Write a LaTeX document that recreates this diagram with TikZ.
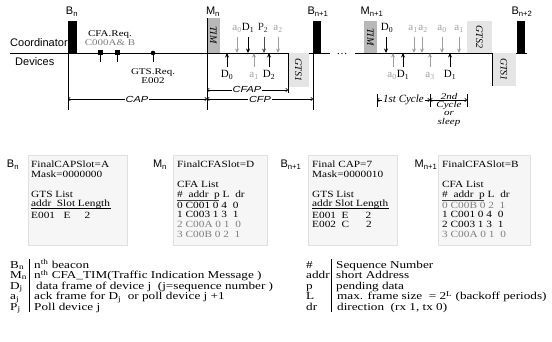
\documentclass[tikz,border=0pt]{standalone}
\usepackage{fontspec}
\setmainfont{Liberation Serif}
\setsansfont{Liberation Sans}
\usetikzlibrary{arrows.meta}
\definecolor{ackgray}{gray}{0.62}
\definecolor{timfill}{gray}{0.72}
\definecolor{gtsfill}{gray}{0.9}
\definecolor{panelfill}{gray}{0.965}
\definecolor{paneledge}{gray}{0.88}
% slightly condensed height for the table and legend texts
\newcommand{\sqz}[1]{\scalebox{1}[0.84]{#1}}
\newcommand{\sqzz}[1]{\scalebox{1}[0.8]{#1}}
\begin{document}
\begin{tikzpicture}[x=1pt,y=-1pt,
  lbl/.style={font=\fontsize{11}{11}\selectfont, inner sep=0pt, anchor=base},
  slbl/.style={font=\sffamily\fontsize{11}{11}\selectfont, inner sep=0pt, anchor=base},
  beaconbar/.style={fill=black},
  timbox/.style={fill=timfill},
  gtsbox/.style={fill=gtsfill},
  rot/.style={font=\itshape\fontsize{10}{10}\selectfont, rotate=-90, inner sep=0pt},
  frm/.style={-{Stealth[length=4.5pt,width=4pt]}, line width=0.9pt},
  blk/.style={frm, black},
  dim/.style={frm, black!70},
  ack/.style={frm, ackgray},
  span/.style={{To[length=2.5pt,width=4pt]}-{To[length=2.5pt,width=4pt]}, line width=0.6pt},
  spanlbl/.style={font=\sffamily\itshape\fontsize{11}{11}\selectfont, fill=white, inner xsep=1pt, inner ysep=0.4pt},
  cyclbl/.style={font=\itshape\fontsize{11}{11}\selectfont, fill=white, inner sep=1pt},
  cycln/.style={font=\itshape\fontsize{11}{11}\selectfont, fill=white, inner sep=0.5pt, anchor=base},
  panel/.style={fill=panelfill, draw=paneledge, line width=0.4pt},
  ptxt/.style={font=\fontsize{11.3}{11.3}\selectfont, inner sep=0pt, anchor=base west},
  legtxt/.style={font=\fontsize{13.2}{13.2}\selectfont, inner sep=0pt, anchor=base west},
]
\useasboundingbox (0,0) rectangle (552,342);

% ---------- superframe time line ----------
\node[slbl, anchor=base west] (coord) at (10,47) {Coordinator};
\node[slbl, anchor=base west] (devs) at (15,65.5) {Devices};
\coordinate (tl0) at (10,53);
\coordinate (tl1) at (330,53);
\coordinate (tl2) at (355,53);
\coordinate (tl3) at (527,53);
\draw[line width=0.8pt] (tl0) -- (tl1);
\draw[line width=0.8pt] (tl2) -- (tl3);
\node[lbl] (dots) at (342,55) {\dots};

% beacons
\fill[beaconbar] (68,21) rectangle (77,53);
\fill[beaconbar] (313,21) rectangle (321,53);
\fill[beaconbar] (517,21) rectangle (525,53);
\node[slbl] (bn) at (72,15) {B\textsubscript{n}};
\node[slbl] (bn1) at (318,15) {B\textsubscript{n+1}};
\node[slbl] (bn2) at (522,15) {B\textsubscript{n+2}};

% CFA_TIM frames
\fill[timbox] (207,18) rectangle (220,53);
\fill[timbox] (364,21) rectangle (377,53);
\node[rot] (tim1) at (213.5,35) {TIM};
\node[rot] (tim2) at (370.5,37) {TIM};
\node[slbl] (mn) at (213,15) {M\textsubscript{n}};
\node[slbl] (mn1) at (372,15) {M\textsubscript{n+1}};

% GTS slots
\fill[gtsbox] (288,53) rectangle (309,87);
\fill[gtsbox] (467,21) rectangle (492,53);
\fill[gtsbox] (492,53) rectangle (516,86);
\node[rot] (gtsa) at (298.5,70) {GTS1};
\node[rot] (gtsb) at (479.5,37) {GTS2};
\node[rot] (gtsc) at (504,69.5) {GTS1};
\draw[line width=0.6pt] (492,53) -- (492,86);

% boundaries
\coordinate (v0t) at (68,53);  \coordinate (v0b) at (68,110);
\coordinate (v1t) at (207,18); \coordinate (v1b) at (207,110);
\coordinate (v2t) at (313,53); \coordinate (v2b) at (313,110);
\coordinate (v3t) at (288,53); \coordinate (v3b) at (288,93);
\draw[line width=0.6pt] (v0t) -- (v0b);
\draw[line width=0.6pt] (v1t) -- (v1b);
\draw[line width=0.6pt] (v2t) -- (v2b);
\draw[line width=0.6pt] (v3t) -- (v3b);

% CAP requests
\fill (97.5,50.5) rectangle (102.5,55.5);
\fill (114.5,50.5) rectangle (119.5,55.5);
\fill (153,53) circle (2.3);
\draw[line width=0.7pt] (100,55) -- (100,62);
\draw[line width=0.7pt] (117,55) -- (117,62);
\draw[line width=0.7pt] (153,53) -- (153,62);
\node[lbl] (cfareq) at (110,36.5) {\sqzz{CFA.Req.}};
\node[lbl, ackgray!80!black] (cfaaddr) at (110,45.5) {\sqzz{C000A\& B}};
\node[lbl] (gtsreq) at (153,75) {\sqzz{GTS.Req.}};
\node[lbl] (gtsaddr) at (153,84) {\sqzz{E002}};

% periods
\draw[span] (v0b |- 0,99) coordinate (capl) -- (v1b |- 0,99) coordinate (capr);
\draw[span] (capr) -- (v2b |- 0,99) coordinate (cfpr);
\draw[span] (207,90) coordinate (cfapl) -- (288,90) coordinate (cfapr);
\node[spanlbl] (cap) at (137,99) {\sqzz{CAP}};
\node[spanlbl] (cfp) at (260,99.3) {\sqzz{CFP}};
\node[spanlbl] (cfap) at (247,89.7) {\sqzz{CFAP}};

% ---------- CFP of M_n ----------
\foreach \x/\s in {237/ack, 248/blk, 264/dim, 278/ack} {
  \draw[\s] (\x,37) -- (\x,53);
}
\node[lbl, ackgray] (l1) at (237,31) {a\textsubscript{0}};
\node[lbl] (l2) at (248,31) {D\textsubscript{1}};
\node[lbl, black!80] (l3) at (263,31) {P\textsubscript{2}};
\node[lbl, ackgray] (l4) at (278,31) {a\textsubscript{2}};
\foreach \x/\s in {227/blk, 254/ack, 269/blk} {
  \draw[\s] (\x,67) -- (\x,53);
}
\node[lbl] (l5) at (227,78) {D\textsubscript{0}};
\node[lbl, ackgray] (l6) at (254,78) {a\textsubscript{1}};
\node[lbl] (l7) at (269,78) {D\textsubscript{2}};

% ---------- CFP of M_n+1 ----------
\foreach \x/\s in {386/blk, 414/ack, 422/ack, 442/ack, 459/ack} {
  \draw[\s] (\x,37) -- (\x,53);
}
\node[lbl] (m1) at (387,31) {D\textsubscript{0}};
\node[lbl, ackgray] (m2) at (413,31) {a\textsubscript{1}};
\node[lbl, ackgray] (m3) at (423,31) {a\textsubscript{2}};
\node[lbl, ackgray] (m4) at (442,31) {a\textsubscript{0}};
\node[lbl, ackgray] (m5) at (459,31) {a\textsubscript{1}};
\foreach \x/\s in {393/ack, 403/blk, 430/ack, 450/blk} {
  \draw[\s] (\x,67) -- (\x,53);
}
\node[lbl, ackgray] (m6) at (392,78) {a\textsubscript{0}};
\node[lbl] (m7) at (403,78) {D\textsubscript{1}};
\node[lbl, ackgray] (m8) at (430,78) {a\textsubscript{3}};
\node[lbl] (m9) at (450,78) {D\textsubscript{1}};

% cycles
\coordinate (c0) at (377,100);
\coordinate (c1) at (430,100);
\coordinate (c2) at (467,100);
\foreach \x in {377,430,467} { \draw[line width=0.6pt] (\x,94) -- (\x,107); }
\draw[span] (c0) -- (c1);
\draw[span] (c1) -- (c2);
\node[cyclbl] (cyc1) at (403.5,100) {1st Cycle};
\node[cycln] (cyc2a) at (449,99.5) {\sqzz{2nd}};
\node[cycln] (cyc2b) at (449,108) {\sqzz{Cycle}};
\node[cycln] (cyc2c) at (449,116) {\sqzz{or}};
\node[cycln] (cyc2d) at (449,124.5) {\sqzz{sleep}};

% ---------- beacon / TIM contents ----------
\draw[panel] (28,155) rectangle (127,245);
\draw[panel] (173,155) rectangle (267,245);
\draw[panel] (308,155) rectangle (397,245);
\draw[panel] (438,155) rectangle (530,245);

% B_n
\node[slbl] (pbn) at (13,168) {B\textsubscript{n}};
\node[ptxt] (p1a) at (31,168) {\sqz{FinalCAPSlot=A}};
\node[ptxt] (p1b) at (31,177.5) {\sqz{Mask=0000000}};
\node[ptxt] (p1c) at (31,197.5) {\sqz{GTS List}};
\node[ptxt] (p1d) at (31,206.5) {\sqz{addr\ \ Slot Length}};
\draw[line width=0.6pt] (31,208.8) -- (111,208.8);
\node[ptxt] (p1e) at (31,218.5) {\sqz{E001\ \ \ E\ \ \ \ \ 2}};

% M_n
\node[slbl] (pmn) at (160,168) {M\textsubscript{n}};
\node[ptxt] (p2a) at (177,168) {\sqz{FinalCFASlot=D}};
\node[ptxt] (p2b) at (177,188) {\sqz{CFA List}};
\node[ptxt] (p2c) at (177,197.5) {\sqz{\#\ \ addr\ \ p L\ \ dr}};
\draw[line width=1.1pt, black!75] (177,200.3) -- (219,200.3);
\node[ptxt] (p2d) at (177,208.5) {\sqz{0\ C001 0 4\ \ 0}};
\node[ptxt] (p2e) at (177,218) {\sqz{1\ C003 1 3\ \ 1}};
\node[ptxt, ackgray!80!black] (p2f) at (177,227.5) {\sqz{2\ C00A 0 1\ \ 0}};
\node[ptxt, ackgray!80!black] (p2g) at (177,237) {\sqz{3\ C00B 0 2\ \ 1}};

% B_n+1
\node[slbl] (pbn1) at (291,168) {B\textsubscript{n+1}};
\node[ptxt] (p3a) at (312,168) {\sqz{Final CAP=7}};
\node[ptxt] (p3b) at (312,177.5) {\sqz{Mask=0000010}};
\node[ptxt] (p3c) at (312,197.5) {\sqz{GTS List}};
\node[ptxt] (p3d) at (312,206.5) {\sqz{addr Slot Length}};
\draw[line width=0.6pt] (312,208.8) -- (389,208.8);
\node[ptxt] (p3e) at (312,218.5) {\sqz{E001\ \ E\ \ \ \ \ \ 2}};
\node[ptxt] (p3f) at (312,227) {\sqz{E002\ \ C\ \ \ \ \ \ 2}};

% M_n+1
\node[slbl] (pmn1) at (426,168) {M\textsubscript{n+1}};
\node[ptxt] (p4a) at (442,168) {\sqz{FinalCFASlot=B}};
\node[ptxt] (p4b) at (442,188) {\sqz{CFA List}};
\node[ptxt] (p4c) at (442,197.5) {\sqz{\#\ \ addr\ \ p L\ \ dr}};
\draw[line width=1.1pt, black!75] (442,200.3) -- (484,200.3);
\node[ptxt, ackgray!80!black] (p4d) at (442,208.5) {\sqz{0\ C00B 0 2\ \ 1}};
\node[ptxt] (p4e) at (442,218) {\sqz{1\ C001 0 4\ \ 0}};
\node[ptxt] (p4f) at (442,227.5) {\sqz{2\ C003 1 3\ \ 1}};
\node[ptxt, ackgray!80!black] (p4g) at (442,237) {\sqz{3\ C00A 0 1\ \ 0}};

% ---------- legend ----------
\draw[line width=0.5pt] (29,259) -- (29,312);
\draw[line width=0.5pt] (331.5,259) -- (331.5,312);
\node[legtxt] (k1) at (10,268) {\sqzz{B\textsubscript{n}}};
\node[legtxt] (k2) at (10,278.5) {\sqzz{M\textsubscript{n}}};
\node[legtxt] (k3) at (10,289) {\sqzz{D\textsubscript{j}}};
\node[legtxt] (k4) at (10,299.5) {\sqzz{a\textsubscript{j}}};
\node[legtxt] (k5) at (10,310) {\sqzz{P\textsubscript{j}}};
\node[legtxt] (d1) at (34,268) {\sqzz{n\textsuperscript{th} beacon}};
\node[legtxt] (d2) at (34,278.5) {\sqzz{n\textsuperscript{th} CFA\_TIM(Traffic Indication Message )}};
\node[legtxt] (d3) at (36,289) {\sqzz{data frame of device j\ \ (j=sequence number )}};
\node[legtxt] (d4) at (34,299.5) {\sqzz{ack frame for D\textsubscript{j}\ \ or poll device j +1}};
\node[legtxt] (d5) at (34,310) {\sqzz{Poll device j}};

\node[legtxt] (r1) at (306,268) {\sqzz{\#}};
\node[legtxt] (r2) at (306,278.5) {\sqzz{addr}};
\node[legtxt] (r3) at (306,289) {\sqzz{p}};
\node[legtxt] (r4) at (306,299.5) {\sqzz{L}};
\node[legtxt] (r5) at (306,310) {\sqzz{dr}};
\node[legtxt] (e1) at (336,268) {\sqzz{Sequence Number}};
\node[legtxt] (e2) at (336,278.5) {\sqzz{short Address}};
\node[legtxt] (e3) at (336,289) {\sqzz{pending data}};
\node[legtxt] (e4) at (337,299.5) {\sqzz{max. frame size\ \ =\ 2\textsuperscript{L} (backoff periods)}};
\node[legtxt] (e5) at (337,310) {\sqzz{direction\ \ (rx 1, tx 0)}};
\end{tikzpicture}
\end{document}
